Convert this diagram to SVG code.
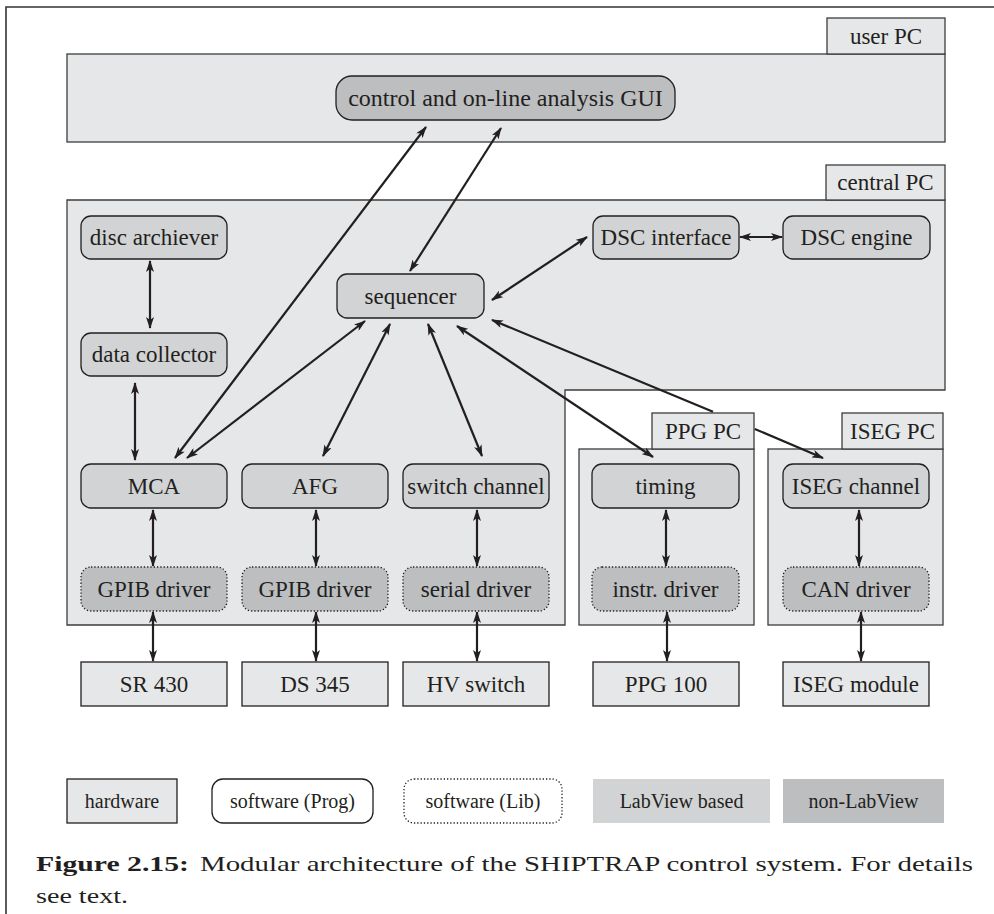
<svg xmlns="http://www.w3.org/2000/svg" width="994" height="914" viewBox="0 0 994 914">
<style>
text{font-family:"Liberation Serif","Times New Roman",serif;fill:#231f20}
.t{font-size:23px;text-anchor:middle}
.lg{font-size:20px;text-anchor:middle}
.cap{font-size:22px}
.cont{fill:#e6e7e8;stroke:#3c3c3c;stroke-width:1.3}
.lv{fill:#d1d3d4;stroke:#231f20;stroke-width:1.3}
.nlv{fill:#bcbec0;stroke:#231f20;stroke-width:1.3}
.lib{fill:#bcbec0;stroke:#231f20;stroke-width:1.3;stroke-dasharray:1.3 2}
.hw{fill:#e6e7e8;stroke:#231f20;stroke-width:1.3}
.c{fill:none;stroke:#231f20;stroke-width:2.2;marker-start:url(#ah);marker-end:url(#ah)}
</style>
<defs>
<marker id="ah" viewBox="0 0 12 8" refX="11" refY="4" markerWidth="12" markerHeight="8" orient="auto-start-reverse" markerUnits="userSpaceOnUse">
<path d="M0,0 L12,4 L0,8 L3,4 z" fill="#231f20"/>
</marker>
</defs>
<rect width="994" height="914" fill="#fff"/>
<g id="frame"><path d="M6,914 V7 H994" fill="none" stroke="#333" stroke-width="1.6"/></g>

<g id="userPC">
<rect class="cont" x="67" y="54" width="878" height="88"/>
<rect class="cont" x="827" y="18" width="118" height="36"/>
<text class="t" x="886" y="44">user PC</text>
</g>
<g id="centralPC">
<path class="cont" d="M67,200 H945 V390 H565 V625 H67 Z"/>
<rect class="cont" x="826" y="165" width="119" height="35"/>
<text class="t" x="885.5" y="190">central PC</text>
</g>
<g id="ppgPC">
<rect class="cont" x="579" y="449" width="175" height="176"/>
<rect class="cont" x="652" y="413" width="102" height="36"/>
<text class="t" x="703" y="439">PPG PC</text>
</g>
<g id="isegPC">
<rect class="cont" x="768" y="449" width="175" height="176"/>
<rect class="cont" x="842" y="413" width="101" height="36"/>
<text class="t" x="892.5" y="439">ISEG PC</text>
</g>

<g id="gui"><rect class="nlv" x="336" y="76" width="339" height="44" rx="16"/><text class="t" x="505.5" y="106" style="font-size:24px">control and on-line analysis GUI</text></g>
<g id="discArchiever"><rect class="lv" x="81" y="216" width="146" height="43" rx="10"/><text class="t" x="154" y="245">disc archiever</text></g>
<g id="dataCollector"><rect class="lv" x="81" y="333" width="146" height="43" rx="10"/><text class="t" x="154" y="362">data collector</text></g>
<g id="sequencer"><rect class="lv" x="337" y="274" width="147" height="44" rx="10"/><text class="t" x="410.5" y="303.5">sequencer</text></g>
<g id="dscInterface"><rect class="lv" x="593" y="216" width="146" height="43" rx="10"/><text class="t" x="666" y="245">DSC interface</text></g>
<g id="dscEngine"><rect class="lv" x="783" y="216" width="147" height="43" rx="10"/><text class="t" x="856.5" y="245">DSC engine</text></g>

<g id="mca"><rect class="lv" x="81" y="464" width="146" height="44" rx="10"/><text class="t" x="154" y="493.5">MCA</text></g>
<g id="afg"><rect class="lv" x="242" y="464" width="146" height="44" rx="10"/><text class="t" x="315" y="493.5">AFG</text></g>
<g id="switchChannel"><rect class="lv" x="403" y="464" width="146" height="44" rx="10"/><text class="t" x="476" y="493.5">switch channel</text></g>
<g id="timing"><rect class="lv" x="592" y="464" width="147" height="44" rx="10"/><text class="t" x="665.5" y="493.5">timing</text></g>
<g id="isegChannel"><rect class="lv" x="783" y="464" width="146" height="44" rx="10"/><text class="t" x="856" y="493.5">ISEG channel</text></g>

<g id="gpib1"><rect class="lib" x="81" y="567" width="146" height="44" rx="10"/><text class="t" x="154" y="596.5">GPIB driver</text></g>
<g id="gpib2"><rect class="lib" x="242" y="567" width="146" height="44" rx="10"/><text class="t" x="315" y="596.5">GPIB driver</text></g>
<g id="serialDriver"><rect class="lib" x="403" y="567" width="146" height="44" rx="10"/><text class="t" x="476" y="596.5">serial driver</text></g>
<g id="instrDriver"><rect class="lib" x="592" y="567" width="147" height="44" rx="10"/><text class="t" x="665.5" y="596.5">instr. driver</text></g>
<g id="canDriver"><rect class="lib" x="783" y="567" width="146" height="44" rx="10"/><text class="t" x="856" y="596.5">CAN driver</text></g>

<g id="sr430"><rect class="hw" x="81" y="662" width="146" height="44"/><text class="t" x="154" y="691.5">SR 430</text></g>
<g id="ds345"><rect class="hw" x="242" y="662" width="146" height="44"/><text class="t" x="315" y="691.5">DS 345</text></g>
<g id="hvSwitch"><rect class="hw" x="403" y="662" width="146" height="44"/><text class="t" x="476" y="691.5">HV switch</text></g>
<g id="ppg100"><rect class="hw" x="593" y="662" width="146" height="44"/><text class="t" x="666" y="691.5">PPG 100</text></g>
<g id="isegModule"><rect class="hw" x="783" y="662" width="146" height="44"/><text class="t" x="856" y="691.5">ISEG module</text></g>

<g id="connectors">
<path class="c" d="M426,127 L175,458"/>
<path class="c" d="M501,128 L410,271"/>
<path class="c" d="M365,321 L187,458"/>
<path class="c" d="M390,324 L323,456"/>
<path class="c" d="M428,324 L482,456"/>
<path class="c" d="M457,326 L653,457"/>
<path class="c" d="M492,320 L713,411.8 M754.8,429 L823,458"/>
<path class="c" d="M492,300 L587,237"/>
<path class="c" d="M740,237 L782,237"/>
<path class="c" d="M150,261 L150,328"/>
<path class="c" d="M135,383 L135,460"/>
<path class="c" d="M153,510 L153,566"/>
<path class="c" d="M153,612 L153,661"/>
<path class="c" d="M316,510 L316,566"/>
<path class="c" d="M316,612 L316,661"/>
<path class="c" d="M477,510 L477,566"/>
<path class="c" d="M477,612 L477,661"/>
<path class="c" d="M666,510 L666,566"/>
<path class="c" d="M667,612 L667,661"/>
<path class="c" d="M859,510 L859,566"/>
<path class="c" d="M861,612 L861,661"/>
</g>

<g id="legend">
<g id="lgHardware"><rect class="hw" x="67" y="779" width="110" height="44"/><text class="lg" x="122" y="808">hardware</text></g>
<g id="lgProg"><rect x="212" y="779" width="161" height="44" rx="11" fill="#fff" stroke="#231f20" stroke-width="1.3"/><text class="lg" x="292.5" y="808">software (Prog)</text></g>
<g id="lgLib"><rect x="404" y="779" width="158" height="44" rx="10" fill="#fff" stroke="#231f20" stroke-width="1.3" stroke-dasharray="1.3 2"/><text class="lg" x="483" y="808">software (Lib)</text></g>
<g id="lgLabView"><rect x="593" y="779" width="177" height="44" fill="#d1d3d4"/><text class="lg" x="681.5" y="808">LabView based</text></g>
<g id="lgNonLabView"><rect x="783" y="779" width="161" height="44" fill="#bcbec0"/><text class="lg" x="863.5" y="808">non-LabView</text></g>
</g>

<g id="caption">
<text class="cap" x="36" y="871" font-weight="bold" textLength="153" lengthAdjust="spacingAndGlyphs">Figure 2.15:</text>
<text class="cap" x="200" y="871" textLength="773" lengthAdjust="spacingAndGlyphs">Modular architecture of the SHIPTRAP control system.  For details</text>
<text class="cap" x="36" y="903" textLength="92" lengthAdjust="spacingAndGlyphs">see text.</text>
</g>
</svg>
